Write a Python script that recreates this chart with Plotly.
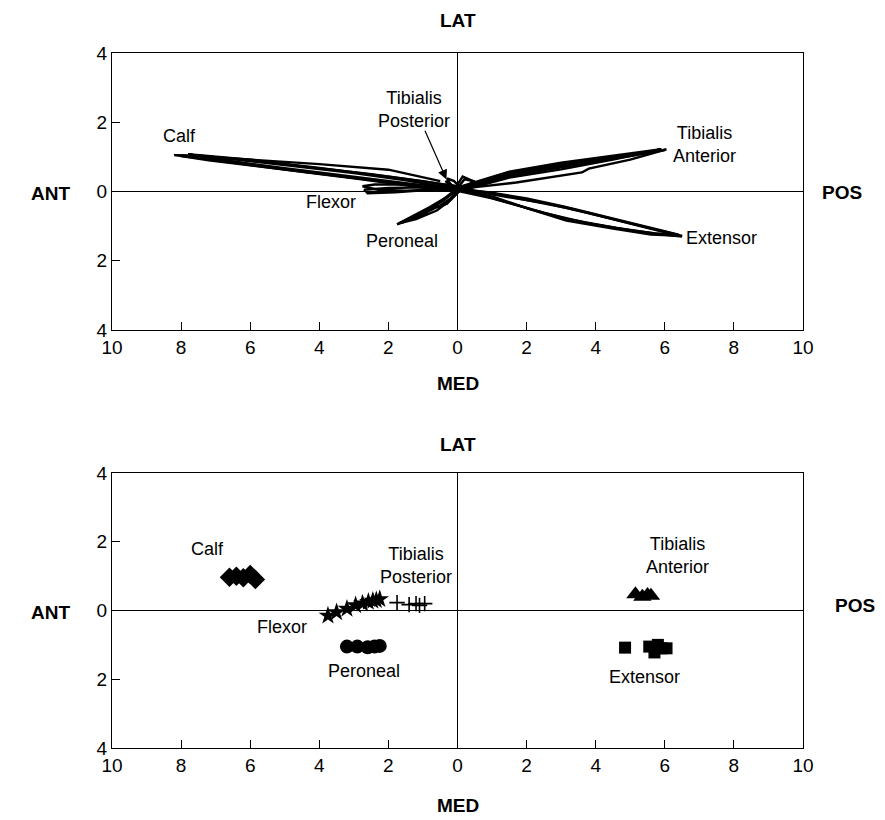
import plotly.graph_objects as go

# ---------------- data: top panel (trajectories) ----------------
# x: ANT (-) / POS (+), y: MED (-) / LAT (+)
CALF_X = [[0.2, -1.0, -2.5, -4.0, -5.5, -7.0, -8.2, -7.4, -6.0, -4.5, -3.0, -1.5, -0.3],
          [0.1, -1.5, -3.0, -4.5, -6.0, -7.5, -8.0, -7.2, -5.5, -4.0, -2.5, -1.0, 0.1],
          [0.0, -2.0, -4.0, -6.0, -7.8, -7.0, -5.0, -3.0, -1.0, 0.2],
          [-8.0, -6.0, -4.0, -2.0, -0.5]]
CALF_Y = [[0.10, 0.30, 0.50, 0.68, 0.84, 0.99, 1.05, 0.95, 0.76, 0.57, 0.38, 0.18, 0.02],
          [0.05, 0.32, 0.53, 0.71, 0.88, 1.04, 1.02, 0.90, 0.70, 0.52, 0.33, 0.13, 0.0],
          [0.15, 0.43, 0.68, 0.92, 1.08, 0.94, 0.67, 0.42, 0.17, 0.03],
          [1.05, 0.93, 0.79, 0.63, 0.30]]

FLEX_X = [[0.0, -0.8, -1.6, -2.4, -2.75, -2.3, -1.5, -0.7, 0.0],
          [0.1, -1.0, -2.0, -2.7, -2.6, -1.8, -0.8, 0.1]]
FLEX_Y = [[0.15, 0.18, 0.20, 0.20, 0.15, 0.05, 0.02, 0.05, 0.10],
          [0.10, 0.12, 0.10, 0.05, -0.05, -0.02, 0.05, 0.12]]

PERO_X = [[0.1, -0.3, -0.8, -1.3, -1.75, -1.4, -0.9, -0.4, 0.0],
          [0.0, -0.5, -1.0, -1.6, -1.3, -0.8, -0.3, -0.1],
          [0.05, -0.2, -0.6, -1.2, -1.7, -1.1, -0.5, -0.2, 0.05]]
PERO_Y = [[0.05, -0.15, -0.45, -0.72, -0.95, -0.82, -0.55, -0.25, 0.05],
          [0.10, -0.30, -0.60, -0.90, -0.78, -0.50, -0.35, -0.10],
          [0.0, -0.25, -0.55, -0.80, -0.92, -0.70, -0.40, -0.20, 0.0]]

TPOST_X = [[0.1, -0.1, -0.3, -0.2, 0.1],
           [0.0, -0.2, -0.35, -0.1, 0.0],
           [0.0, 0.2, 0.45, 0.3, 0.0]]
TPOST_Y = [[0.10, 0.30, 0.38, 0.20, 0.05],
           [0.05, 0.22, 0.30, 0.10, 0.0],
           [0.10, 0.35, 0.30, 0.10, 0.0]]

TANT_X = [[0.0, 1.5, 3.0, 4.5, 6.0, 5.0, 3.5, 2.0, 0.5, 0.0],
          [0.1, 1.5, 3.0, 4.5, 5.9, 4.8, 3.2, 1.6, 0.2],
          [-0.1, 1.0, 2.5, 4.0, 5.6, 4.5, 3.0, 1.5, 0.0],
          [0.0, 0.45, 1.7, 3.6, 3.8, 5.0, 6.05],
          [0.0, 0.15, 0.45, 0.3]]
TANT_Y = [[0.05, 0.52, 0.78, 0.99, 1.20, 1.02, 0.79, 0.56, 0.20, 0.05],
          [0.15, 0.57, 0.83, 1.04, 1.22, 1.00, 0.73, 0.46, 0.10],
          [0.05, 0.38, 0.68, 0.90, 1.15, 0.92, 0.64, 0.40, 0.0],
          [0.05, 0.12, 0.26, 0.55, 0.66, 0.92, 1.22],
          [0.20, 0.43, 0.30, 0.15]]

EXT_X = [[0.0, 1.0, 2.0, 3.15, 4.5, 5.6, 6.5, 5.6, 4.5, 3.15, 2.0, 1.0, 0.0],
         [0.1, 1.0, 2.2, 3.2, 4.6, 5.7, 6.4, 5.5, 4.4, 3.1, 2.0, 0.9, 0.0],
         [0.0, 1.2, 2.5, 3.8, 5.0, 6.0, 6.5, 5.2, 3.8, 2.5, 1.2, 0.1]]
EXT_Y = [[0.05, -0.14, -0.48, -0.84, -1.07, -1.24, -1.28, -1.06, -0.78, -0.47, -0.25, -0.05, 0.10],
         [0.0, -0.20, -0.53, -0.80, -1.05, -1.21, -1.25, -1.03, -0.75, -0.44, -0.20, -0.02, 0.05],
         [0.10, -0.25, -0.62, -0.92, -1.12, -1.25, -1.30, -0.98, -0.62, -0.33, -0.12, 0.08]]

# ---------------- data: bottom panel (markers) ----------------
CALF_PX = [-6.6, -6.4, -6.2, -6.0, -5.85]
CALF_PY = [0.97, 1.0, 0.95, 1.05, 0.9]
FLEX_PX = [-3.75, -3.5, -3.2, -2.95, -2.75, -2.58, -2.45, -2.35, -2.25]
FLEX_PY = [-0.15, -0.05, 0.05, 0.15, 0.2, 0.25, 0.28, 0.3, 0.33]
TPOST_PX = [-1.75, -1.4, -1.2, -1.1, -0.95]
TPOST_PY = [0.23, 0.17, 0.2, 0.15, 0.2]
PERO_PX = [-3.2, -2.9, -2.6, -2.4, -2.25]
PERO_PY = [-1.05, -1.05, -1.07, -1.05, -1.03]
TANT_PX = [5.15, 5.35, 5.5, 5.6]
TANT_PY = [0.47, 0.4, 0.45, 0.43]
EXT_PX = [4.85, 5.55, 5.7, 5.8, 5.9, 6.05]
EXT_PY = [-1.08, -1.05, -1.22, -1.0, -1.1, -1.1]

TICK_VALS_X = [-10, -8, -6, -4, -2, 0, 2, 4, 6, 8, 10]
TICK_TEXT_X = ["10", "8", "6", "4", "2", "0", "2", "4", "6", "8", "10"]
TICK_VALS_Y = [-4, -2, 0, 2, 4]
TICK_TEXT_Y = ["4", "2", "0", "2", "4"]

FONT = "Arial, Liberation Sans, sans-serif"

fig = go.Figure()

for xs_list, ys_list in [(CALF_X, CALF_Y), (FLEX_X, FLEX_Y), (PERO_X, PERO_Y),
                         (TPOST_X, TPOST_Y), (TANT_X, TANT_Y), (EXT_X, EXT_Y)]:
    for xs, ys in zip(xs_list, ys_list):
        fig.add_trace(go.Scatter(x=xs, y=ys, mode="lines",
                                 line=dict(color="black", width=2.4),
                                 xaxis="x", yaxis="y", showlegend=False))

marker_sets = [
    (CALF_PX, CALF_PY, dict(symbol="diamond", size=15, color="black")),
    (FLEX_PX, FLEX_PY, dict(symbol="star", size=14, color="black")),
    (TPOST_PX, TPOST_PY, dict(symbol="cross-thin-open", size=11, color="black",
                              line=dict(color="black", width=1.6))),
    (PERO_PX, PERO_PY, dict(symbol="circle", size=14, color="black")),
    (TANT_PX, TANT_PY, dict(symbol="triangle-up", size=16, color="black")),
    (EXT_PX, EXT_PY, dict(symbol="square", size=12, color="black")),
]
for xs, ys, mk in marker_sets:
    fig.add_trace(go.Scatter(x=xs, y=ys, mode="markers", marker=mk,
                             xaxis="x2", yaxis="y2", showlegend=False))

def xax(domain, anchor):
    return dict(domain=domain, anchor=anchor, range=[-10, 10], automargin=False,
                tickmode="array", tickvals=TICK_VALS_X, ticktext=TICK_TEXT_X,
                ticks="inside", ticklen=8, tickcolor="black", tickwidth=1,
                showline=True, linecolor="black", linewidth=1.2, mirror=True,
                showgrid=False, zeroline=True, zerolinecolor="black", zerolinewidth=1.2,
                tickfont=dict(family=FONT, size=19, color="black"), fixedrange=True)

def yax(domain, anchor):
    return dict(domain=domain, anchor=anchor, range=[-4, 4], automargin=False,
                tickmode="array", tickvals=TICK_VALS_Y, ticktext=TICK_TEXT_Y,
                ticks="inside", ticklen=8, tickcolor="black", tickwidth=1,
                showline=True, linecolor="black", linewidth=1.2, mirror=True,
                showgrid=False, zeroline=True, zerolinecolor="black", zerolinewidth=1.2,
                tickfont=dict(family=FONT, size=19, color="black"), fixedrange=True)

W, H = 885, 820
xd = [112 / W, 803 / W]
fig.update_layout(
    width=W, height=H, margin=dict(l=0, r=0, t=0, b=0, autoexpand=False),
    paper_bgcolor="white", plot_bgcolor="white",
    xaxis=xax(xd, "y"), yaxis=yax([1 - 330 / H, 1 - 53 / H], "x"),
    xaxis2=xax(xd, "y2"), yaxis2=yax([1 - 748 / H, 1 - 473 / H], "x2"),
)

ann = []
def ptext(text, px, py):
    ann.append(dict(text="<b>" + text + "</b>", x=px / W, y=1 - py / H, xref="paper", yref="paper",
                    showarrow=False, xanchor="center", yanchor="middle",
                    font=dict(family=FONT, size=19, color="black")))

ptext("LAT", 458, 20); ptext("MED", 458, 383); ptext("ANT", 50, 193); ptext("POS", 842, 192)
ptext("LAT", 458, 444); ptext("MED", 458, 805); ptext("ANT", 50, 612); ptext("POS", 855, 605)

def dtext(text, x, y, xr, yr):
    ann.append(dict(text=text, x=x, y=y, xref=xr, yref=yr, showarrow=False,
                    xanchor="center", yanchor="middle",
                    font=dict(family=FONT, size=18, color="black")))

dtext("Calf", -8.05, 1.6, "x", "y")
dtext("Tibialis<br>Posterior", -1.25, 2.37, "x", "y")
dtext("Tibialis<br>Anterior", 7.15, 1.36, "x", "y")
dtext("Flexor", -3.65, -0.29, "x", "y")
dtext("Peroneal", -1.6, -1.42, "x", "y")
dtext("Extensor", 7.65, -1.33, "x", "y")

ann.append(dict(text="", x=-0.32, y=0.35, xref="x", yref="y", ax=-0.96, ay=1.8,
                axref="x", ayref="y", showarrow=True, arrowhead=2, arrowsize=1.6,
                arrowwidth=1.2, arrowcolor="black"))

dtext("Calf", -7.25, 1.8, "x2", "y2")
dtext("Tibialis<br>Posterior", -1.2, 1.31, "x2", "y2")
dtext("Flexor", -5.07, -0.49, "x2", "y2")
dtext("Peroneal", -2.7, -1.77, "x2", "y2")
dtext("Tibialis<br>Anterior", 6.38, 1.6, "x2", "y2")
dtext("Extensor", 5.42, -1.92, "x2", "y2")

fig.update_layout(annotations=ann)
fig.write_html("out.html", config={"displayModeBar": False},
               post_script="document.body.style.margin='0';document.body.style.overflow='hidden';")
